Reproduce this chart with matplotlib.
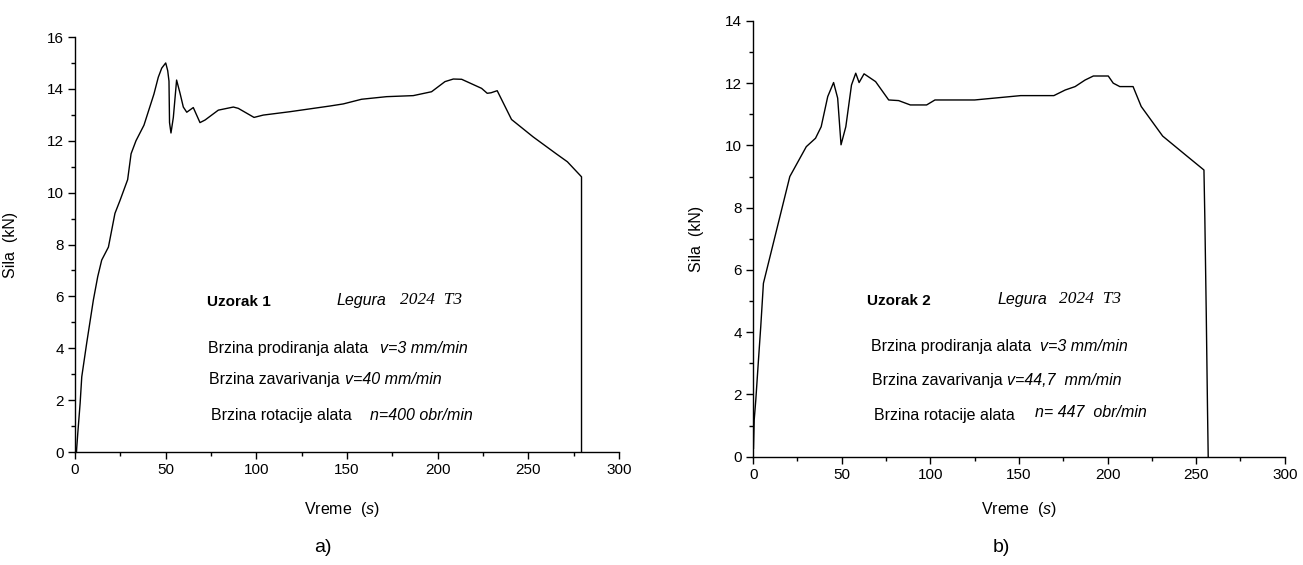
import matplotlib
matplotlib.use("Agg")
import matplotlib.pyplot as plt
from matplotlib.ticker import MultipleLocator

plt.rcParams["font.family"] = ["Liberation Sans", "DejaVu Sans"]
plt.rcParams["mathtext.fontset"] = "custom"
plt.rcParams["mathtext.it"] = "Liberation Sans:italic"
plt.rcParams["mathtext.rm"] = "Liberation Sans"

# sample 1 (a)
t1 = [0.8, 0.9, 1.5, 2.8, 3.7, 6.4, 10.1, 12.5, 14.7, 18.4, 22, 24.8, 29, 30.9,
      33.6, 38, 43.5, 45.9, 47.8, 50, 51.1, 51.8, 52.1, 52.9, 54.2, 56, 57.9,
      59.7, 61.6, 65.2, 68.9, 71.7, 79, 87.3, 90, 98.7, 103.8, 118.5, 140.6,
      147.9, 158, 171.8, 186.5, 196.6, 204, 208.6, 213.2, 224.2, 227.3, 229.4,
      232.8, 240.7, 252.6, 265.5, 271.5, 279.3, 279.3]
f1 = [0.0, 0.14, 0.72, 1.88, 2.9, 4.19, 5.86, 6.76, 7.4, 7.9, 9.2, 9.7, 10.5, 11.5,
      12.0, 12.6, 13.8, 14.45, 14.8, 15.0, 14.7, 14.3, 12.7, 12.3, 12.9, 14.34,
      13.83, 13.3, 13.1, 13.28, 12.7, 12.8, 13.18, 13.3, 13.25, 12.9, 12.99,
      13.12, 13.34, 13.42, 13.6, 13.7, 13.74, 13.89, 14.28, 14.38, 14.37, 14.02,
      13.83, 13.85, 13.93, 12.82, 12.15, 11.49, 11.19, 10.61, 0.0]

# sample 2 (b)
t2 = [0.2, 0.6, 1.5, 3.0, 4.3, 5.8, 20.7, 30.0, 35.2, 38.4, 42.1, 45.4, 47.7,
      49.6, 52.3, 55.5, 57.9, 59.8, 62.6, 69.1, 76.5, 82.1, 88.7, 97.9, 102.6,
      125, 151, 169.7, 176.1, 181.7, 187.3, 192, 200.4, 203.2, 206.9, 214.4,
      219, 231.1, 244.1, 254.4, 254.9, 255.7, 256.4, 256.8]
f2 = [0.27, 1.18, 1.82, 3.1, 4.18, 5.57, 9.0, 9.96, 10.23, 10.6, 11.57, 12.02,
      11.52, 10.02, 10.6, 11.94, 12.32, 12.02, 12.3, 12.05, 11.46, 11.44, 11.3,
      11.3, 11.46, 11.46, 11.6, 11.6, 11.78, 11.89, 12.1, 12.23, 12.23, 12.0,
      11.89, 11.89, 11.25, 10.3, 9.69, 9.21, 7.66, 4.6, 1.55, 0.0]

ylims = [16, 14]
samples = ["Uzorak 1", "Uzorak 2"]
v_weld = ["v=40 mm/min", "v=44,7  mm/min"]
n_rot = ["n=400 obr/min", "n= 447  obr/min"]
panel = ["a)", "b)"]

fig = plt.figure(figsize=(13.03, 5.65), dpi=100)
ax1 = fig.add_axes([0.0576, 0.2, 0.4175, 0.7345])
ax2 = fig.add_axes([0.578, 0.1917, 0.408, 0.7713])

# text positions (data coords) for each panel
txt_pos = [
    dict(unz=(72.6, 5.8), leg=(144, 5.85), yr=(179, 5.85),
         l1=(73.5, 4.0), v1=(168, 4.0), l2=(74, 2.78), v2=(148.8, 2.78),
         l3=(75, 1.42), v3=(162.6, 1.42)),
    dict(unz=(64.5, 5.0), leg=(138, 5.05), yr=(172.5, 5.05),
         l1=(66.7, 3.55), v1=(162, 3.55), l2=(67.3, 2.46), v2=(143.5, 2.46),
         l3=(68.2, 1.33), v3=(159, 1.42)),
]

for i, (ax, t, f) in enumerate([(ax1, t1, f1), (ax2, t2, f2)]):
    ax.plot(t, f, color="black", lw=1.0)
    ax.set_xlim(0, 300)
    ax.set_ylim(0, ylims[i])
    ax.xaxis.set_major_locator(MultipleLocator(50))
    ax.xaxis.set_minor_locator(MultipleLocator(25))
    ax.yaxis.set_major_locator(MultipleLocator(2))
    ax.yaxis.set_minor_locator(MultipleLocator(1))
    for s in ["top", "right"]:
        ax.spines[s].set_visible(False)
    for s in ["left", "bottom"]:
        ax.spines[s].set_linewidth(1.0)
    ax.tick_params(which="major", direction="out", length=5, width=1, labelsize=11, pad=3)
    ax.tick_params(which="minor", direction="out", length=3, width=1)
    ax.set_xlabel("Vreme  ($\\it{s}$)", fontsize=11.5)
    ax.set_ylabel("Sila  (kN)", fontsize=11.5)

    p = txt_pos[i]
    ax.text(*p["unz"], samples[i], fontsize=11, fontweight="bold", va="center")
    ax.text(*p["leg"], "Legura", fontsize=11.5, style="italic", va="center")
    ax.text(*p["yr"], "2024  T3", fontsize=12.5, style="italic", va="center",
            family=["Liberation Serif", "DejaVu Serif"])
    ax.text(*p["l1"], "Brzina prodiranja alata", fontsize=11.5, va="center")
    ax.text(*p["v1"], "v=3 mm/min", fontsize=11.5, style="italic", va="center")
    ax.text(*p["l2"], "Brzina zavarivanja", fontsize=11.5, va="center")
    ax.text(*p["v2"], v_weld[i], fontsize=11.5, style="italic", va="center")
    ax.text(*p["l3"], "Brzina rotacije alata", fontsize=11.5, va="center")
    ax.text(*p["v3"], n_rot[i], fontsize=11.5, style="italic", va="center")

ax1.xaxis.set_label_coords(0.49, -0.115)
ax1.yaxis.set_label_coords(-0.105, 0.5)
ax2.xaxis.set_label_coords(0.5, -0.1)
ax2.yaxis.set_label_coords(-0.093, 0.5)

fig.text(323 / 1303, 1 - 548 / 565, panel[0], fontsize=14, ha="center", va="center")
fig.text(1001 / 1303, 1 - 548 / 565, panel[1], fontsize=14, ha="center", va="center")

fig.savefig("out.png", dpi=100)
